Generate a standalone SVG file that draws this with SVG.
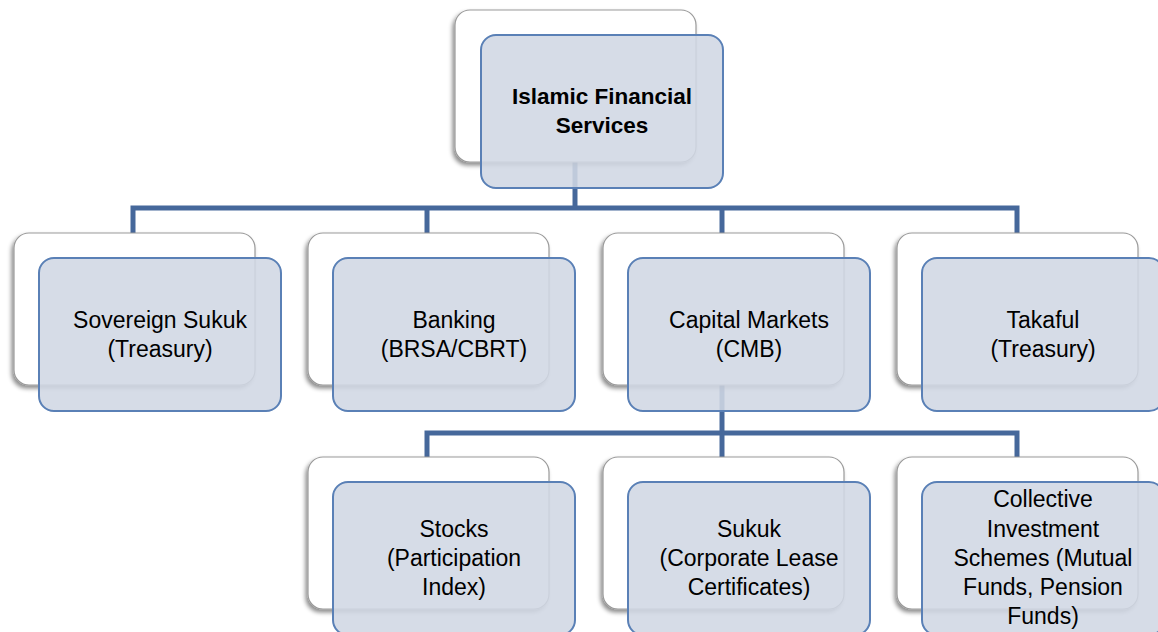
<svg xmlns="http://www.w3.org/2000/svg" width="1158" height="632" viewBox="0 0 1158 632">
<defs>
<filter id="sh" x="-10%" y="-10%" width="120%" height="125%">
<feDropShadow dx="-2" dy="3" stdDeviation="2" flood-color="#000" flood-opacity="0.45"/>
</filter>
</defs>
<style>
.back{fill:#ffffff;stroke:#9a9a9a;stroke-width:1.2;filter:url(#sh)}
.front{fill:#d0d7e4;fill-opacity:0.88;stroke:#5a80b6;stroke-width:2}
.conn{fill:none;stroke:#46689b;stroke-width:5;stroke-linejoin:miter;stroke-linecap:butt}
text{font-family:"Liberation Sans",Arial,sans-serif;font-size:23px;fill:#000;text-anchor:middle}
.b{font-weight:bold;font-size:22.5px}
</style>
<rect width="1158" height="632" fill="#ffffff"/>
<g id="connectors">
<path class="conn" d="M575,162 V208"/>
<path class="conn" d="M133,233 V208 H1017 V233"/>
<path class="conn" d="M427,208 V233"/>
<path class="conn" d="M722,208 V233"/>
<path class="conn" d="M722,385 V433"/>
<path class="conn" d="M427,457 V433 H1017 V457"/>
<path class="conn" d="M722,433 V457"/>
</g>
<g id="node-islamic-financial-services">
<rect class="back" x="455" y="10" width="241" height="152" rx="15"/>
<rect class="front" x="481" y="35" width="242" height="153" rx="15"/>
<text class="b" x="602" y="104">Islamic Financial</text>
<text class="b" x="602" y="133">Services</text>
</g>
<g id="node-sovereign-sukuk">
<rect class="back" x="14" y="233" width="241" height="152" rx="15"/>
<rect class="front" x="39" y="258" width="242" height="153" rx="15"/>
<text x="160" y="328">Sovereign Sukuk</text>
<text x="160" y="357">(Treasury)</text>
</g>
<g id="node-banking">
<rect class="back" x="308" y="233" width="241" height="152" rx="15"/>
<rect class="front" x="333" y="258" width="242" height="153" rx="15"/>
<text x="454" y="328">Banking</text>
<text x="454" y="357">(BRSA/CBRT)</text>
</g>
<g id="node-capital-markets">
<rect class="back" x="603" y="233" width="241" height="152" rx="15"/>
<rect class="front" x="628" y="258" width="242" height="153" rx="15"/>
<text x="749" y="328">Capital Markets</text>
<text x="749" y="357">(CMB)</text>
</g>
<g id="node-takaful">
<rect class="back" x="897" y="233" width="241" height="152" rx="15"/>
<rect class="front" x="922" y="258" width="242" height="153" rx="15"/>
<text x="1043" y="328">Takaful</text>
<text x="1043" y="357">(Treasury)</text>
</g>
<g id="node-stocks">
<rect class="back" x="308" y="457" width="241" height="152" rx="15"/>
<rect class="front" x="333" y="482" width="242" height="153" rx="15"/>
<text x="454" y="536.5">Stocks</text>
<text x="454" y="566">(Participation</text>
<text x="454" y="595">Index)</text>
</g>
<g id="node-sukuk">
<rect class="back" x="603" y="457" width="241" height="152" rx="15"/>
<rect class="front" x="628" y="482" width="242" height="153" rx="15"/>
<text x="749" y="536.5">Sukuk</text>
<text x="749" y="566">(Corporate Lease</text>
<text x="749" y="595">Certificates)</text>
</g>
<g id="node-collective-investment-schemes">
<rect class="back" x="897" y="457" width="241" height="152" rx="15"/>
<rect class="front" x="922" y="482" width="242" height="153" rx="15"/>
<text x="1043" y="507">Collective</text>
<text x="1043" y="537">Investment</text>
<text x="1043" y="566">Schemes (Mutual</text>
<text x="1043" y="595">Funds, Pension</text>
<text x="1043" y="624">Funds)</text>
</g>
</svg>
